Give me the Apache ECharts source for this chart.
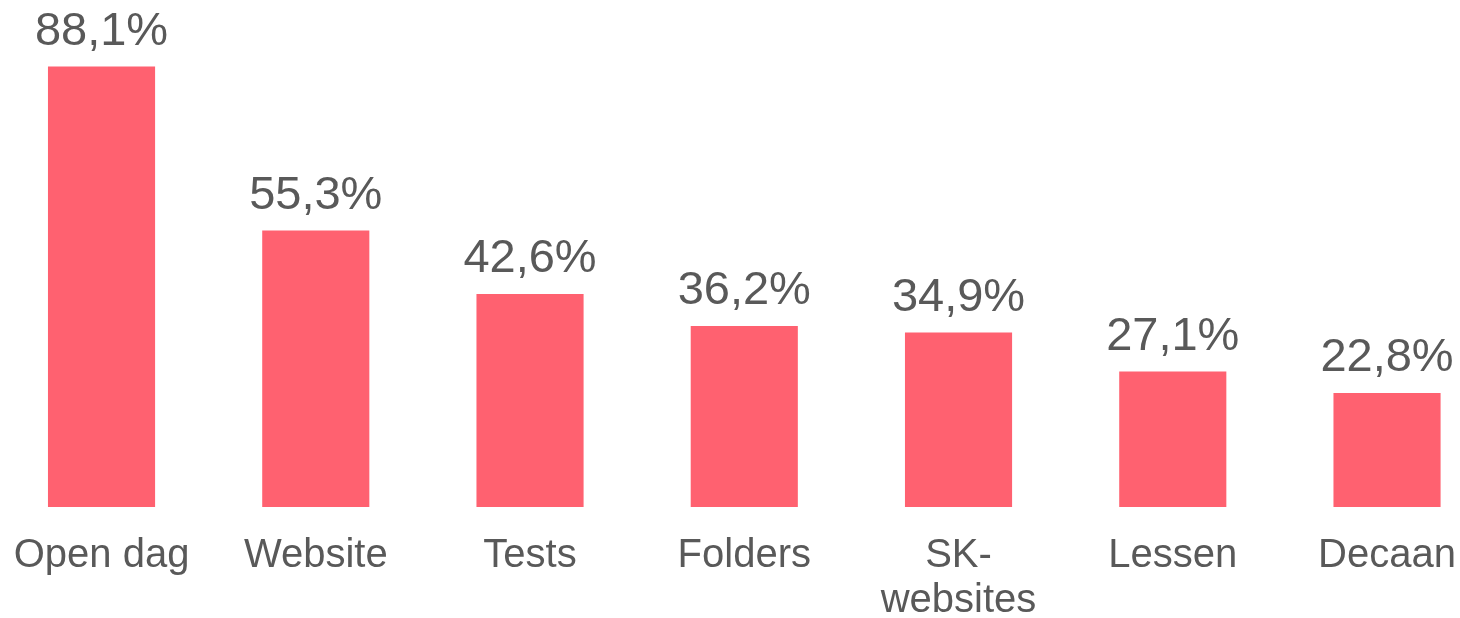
<!DOCTYPE html>
<html>
<head>
<meta charset="utf-8">
<script src="https://cdn.jsdelivr.net/npm/echarts@6/dist/echarts.min.js"></script>
<style>html,body{margin:0;padding:0;background:#fff;}#c{width:1460px;height:618px;}</style>
</head>
<body>
<div id="c"></div>
<script>
const categories = ['Open dag', 'Website', 'Tests', 'Folders', 'SK-websites', 'Lessen', 'Decaan'];
const values = [88.1, 55.3, 42.6, 36.2, 34.9, 27.1, 22.8];

const chart = echarts.init(document.getElementById('c'), null, {renderer: 'canvas'});
chart.setOption({
  animation: false,
  backgroundColor: '#ffffff',
  grid: {left: -5.6, width: 1499.75, top: 7, height: 500, containLabel: false, outerBoundsMode: 'none'},
  xAxis: {
    type: 'category',
    data: categories,
    axisLine: {show: false},
    axisTick: {show: false},
    axisLabel: {
      interval: 0,
      margin: 26,
      color: '#595959',
      fontFamily: 'Liberation Sans, Arial, sans-serif',
      fontSize: 40,
      lineHeight: 45,
      formatter: v => v.replace('-', '-\n')
    }
  },
  yAxis: {
    type: 'value',
    min: 0,
    max: 100,
    show: false,
    splitLine: {show: false}
  },
  series: [{
    type: 'bar',
    data: values,
    barWidth: '50%',
    itemStyle: {color: '#FF6170'},
    label: {
      show: true,
      position: 'top',
      distance: 11,
      color: '#595959',
      fontFamily: 'Liberation Sans, Arial, sans-serif',
      fontSize: 47,
      formatter: p => p.value.toFixed(1).replace('.', ',') + '%'
    }
  }]
});
</script>
</body>
</html>
